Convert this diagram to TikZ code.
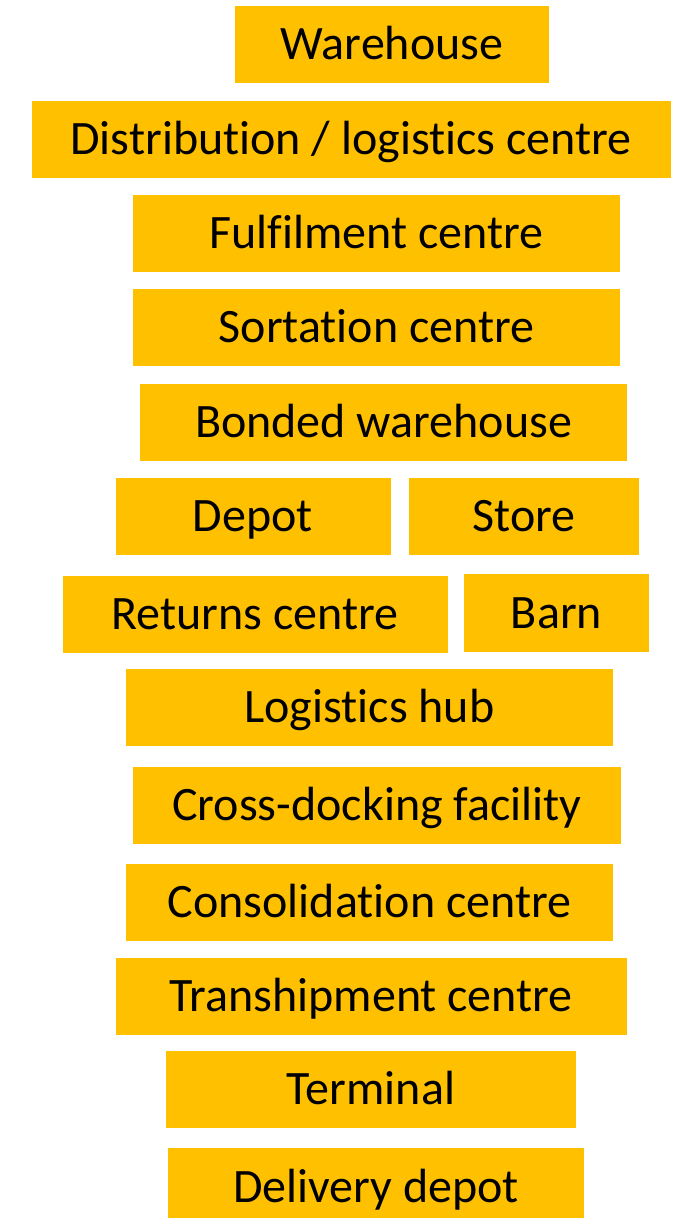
\documentclass[tikz,border=0pt]{standalone}
\usepackage{fontspec}
\setmainfont{Carlito}[Ligatures=NoCommon]
\usepackage{xcolor}
\usepackage{tikz}
\usetikzlibrary{positioning}
\definecolor{boxamber}{HTML}{FFC000}

\begin{document}
\begin{tikzpicture}[x=1pt, y=-1pt,
  facility/.style = {rectangle, fill=boxamber, inner sep=0pt, minimum height=77pt, text height=32pt, text depth=2pt, font=\fontsize{48}{50}\selectfont}]
          \useasboundingbox (0,0) rectangle (672,1218);
          % nodes
          \node[facility, minimum width=314pt] (warehouse) at (392,44.5) {Warehouse};
          \node[facility, minimum width=639pt] (distribution) at (351,139.5) {Distribution / logistics centre};
          \node[facility, minimum width=487pt] (fulfilment) at (376.5,233) {Fulfilment centre};
          \node[facility, minimum width=487pt] (sortation) at (376.5,327) {Sortation centre};
          \node[facility, minimum width=487pt] (bonded) at (383.5,422) {Bonded warehouse};

          \node[facility, minimum width=275pt] (depot) at (253,516) {Depot};
          \node[facility, minimum width=230pt] (store) at (524,516) {Store};
          \node[facility, minimum width=385pt] (returns) at (255,614.5) {Returns centre};
          \node[facility, minimum width=185pt, minimum height=78pt] (barn) at (556.5,613) {Barn};

          \node[facility, minimum width=487pt] (hub) at (369.5,707) {Logistics hub};
          \node[facility, minimum width=488pt] (crossdock) at (377,805) {Cross-docking facility};
          \node[facility, minimum width=487pt] (consolidation) at (369.5,902) {Consolidation centre};
          \node[facility, minimum width=511pt] (tranship) at (371,996) {Transhipment centre};
          \node[facility, minimum width=410pt] (terminal) at (371,1089) {Terminal};
          \node[facility, minimum width=416pt, minimum height=78pt] (deliverydepot) at (376,1187) {Delivery depot};
        \end{tikzpicture}
\end{document}
